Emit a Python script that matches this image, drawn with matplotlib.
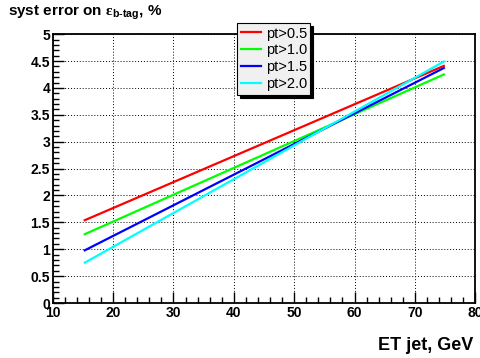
import matplotlib.pyplot as plt
from matplotlib.ticker import MultipleLocator

# endpoints of the (straight) curves
et_jet = [15.3, 74.8]
err_pt05 = [1.54, 4.41]
err_pt10 = [1.28, 4.25]
err_pt15 = [0.98, 4.37]
err_pt20 = [0.75, 4.49]

labels = ["pt>0.5", "pt>1.0", "pt>1.5", "pt>2.0"]
colors = ["#ff0000", "#00ff00", "#0000ff", "#00ffff"]

plt.rcParams['font.family'] = ['Liberation Sans', 'DejaVu Sans']
plt.rcParams['font.weight'] = 'bold'
plt.rcParams['mathtext.fontset'] = 'custom'
plt.rcParams['mathtext.rm'] = 'Liberation Serif'
plt.rcParams['mathtext.bf'] = 'Liberation Sans:bold'

fig = plt.figure(figsize=(4.8, 3.58), dpi=100)
ax = fig.add_axes([0.110, 0.1536, 0.880, 0.751])

for ys, lab, c in zip([err_pt05, err_pt10, err_pt15, err_pt20], labels, colors):
    ax.plot(et_jet, ys, color=c, lw=1.6, label=lab)

ax.set_xlim(10, 80)
ax.set_ylim(0, 5)
ax.xaxis.set_major_locator(MultipleLocator(10))
ax.xaxis.set_minor_locator(MultipleLocator(2))
ax.yaxis.set_major_locator(MultipleLocator(0.5))
ax.yaxis.set_minor_locator(MultipleLocator(0.1))
ax.yaxis.set_major_formatter(plt.FuncFormatter(lambda v, p: "%g" % v))

ax.grid(True, which='major', color='black', linestyle=(0, (1, 2)), linewidth=0.7)
ax.tick_params(which='both', direction='in', top=False, right=False,
               labelsize=10, width=1)
ax.tick_params(which='major', length=8, pad=2)
ax.tick_params(which='minor', length=4)
for sp in ax.spines.values():
    sp.set_linewidth(1.3)

ax.set_xlabel("ET jet, GeV", fontsize=13, fontweight='bold')
ax.xaxis.set_label_coords(0.995, -0.125)
ax.xaxis.label.set_ha('right')

fig.text(0.017, 0.965, r"syst error on $\mathrm{ε}_{\mathbf{b\text{-}tag}}$, %",
         fontsize=11, fontweight='bold', va='center', ha='left')

leg = ax.legend(loc='upper left', bbox_to_anchor=(0.494, 0.936),
                bbox_transform=fig.transFigure, frameon=True, fancybox=False,
                shadow={'color': 'black', 'alpha': 1}, edgecolor='black', facecolor='#f0f0f0',
                framealpha=1, fontsize=10.5, handlelength=1.4, handletextpad=0.3,
                labelspacing=0.2, borderpad=0.25, borderaxespad=0)
leg.get_frame().set_linewidth(0.8)
for t in leg.get_texts():
    t.set_fontweight('normal')

# make the tick labels bold once they exist
fig.canvas.draw()
for t in ax.get_xticklabels() + ax.get_yticklabels():
    t.set_fontweight('bold')

fig.savefig("out.png", dpi=100)
